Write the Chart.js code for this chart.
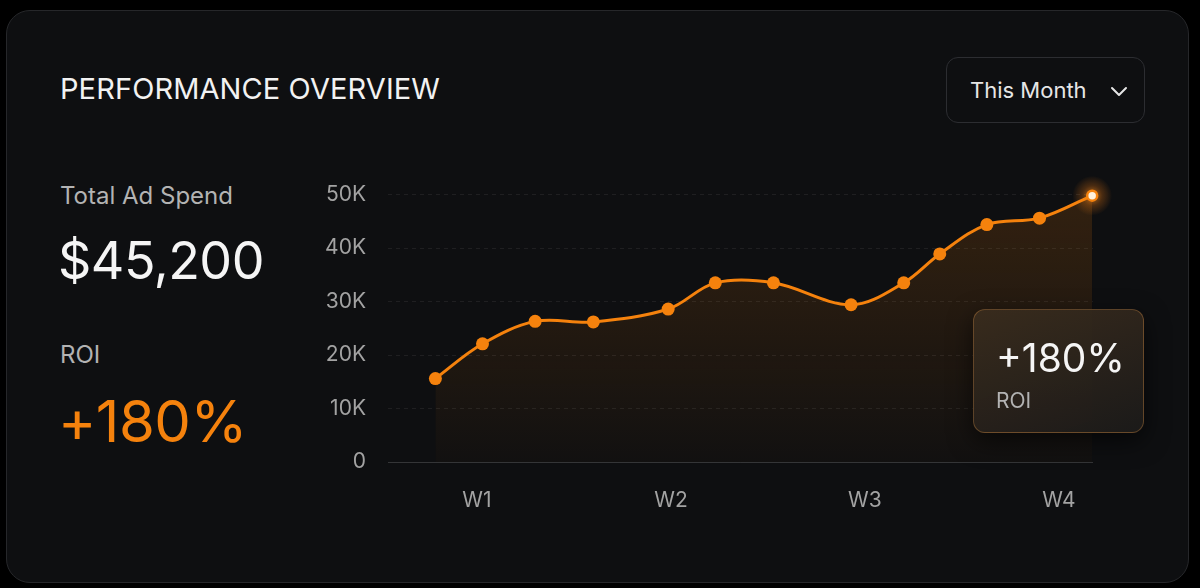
<!DOCTYPE html>
<html>
<head>
<meta charset="utf-8">
<script src="https://cdn.jsdelivr.net/npm/chart.js@4.4.1/dist/chart.umd.min.js"></script>
<style>
  html, body { margin: 0; padding: 0; background: #000; }
  body { width: 1200px; height: 588px; position: relative; overflow: hidden; font-family: Inter, "Noto Sans", sans-serif; }
  .card {
    position: absolute; left: 6px; top: 10px; width: 1181px; height: 571px;
    background: #0e0f11; border: 1px solid #26272a; border-radius: 24px;
  }
  .title { position: absolute; left: 60px; top: 71px; font-size: 29px; color: #f2f2f2; letter-spacing: 0.1px; }
  .dropdown {
    position: absolute; left: 946px; top: 57px; width: 199px; height: 66px;
    border: 1px solid #2c2d31; border-radius: 12px; box-sizing: border-box;
  }
  .dropdown span { position: absolute; left: 23px; top: 19px; font-size: 22px; color: #e6e6e6; }
  .dropdown svg { position: absolute; left: 163px; top: 28px; }
  .label { position: absolute; left: 60px; color: #b3b3b3; font-size: 24px; }
  .big { position: absolute; left: 58px; font-size: 52px; color: #f5f5f5; letter-spacing: -0.5px; }
  .roi { color: #f5820d; font-size: 58px; }
  .chartbox { position: absolute; left: 300px; top: 160px; width: 830px; height: 350px; }
  .tip {
    position: absolute; left: 973px; top: 309px; width: 171px; height: 124px; box-sizing: border-box;
    border-radius: 12px; border: 1px solid rgba(255, 170, 80, 0.28);
    background: linear-gradient(160deg, rgba(58, 44, 30, 0.95), rgba(28, 27, 26, 0.96));
    box-shadow: 0 8px 24px rgba(0, 0, 0, 0.6);
  }
  .tip .v { position: absolute; left: 22px; top: 24px; font-size: 39px; color: #f5f5f5; }
  .tip .l { position: absolute; left: 22px; top: 78px; font-size: 21px; color: #b3b3b3; }
</style>
</head>
<body>
<div class="card"></div>
<div class="title">PERFORMANCE OVERVIEW</div>
<div class="dropdown"><span>This Month</span>
  <svg width="18" height="12" viewBox="0 0 18 12"><path d="M2 2 L9 9 L16 2" fill="none" stroke="#e6e6e6" stroke-width="2" stroke-linecap="round" stroke-linejoin="round"/></svg>
</div>
<div class="label" style="top:181px">Total Ad Spend</div>
<div class="big" style="top:229px">$45,200</div>
<div class="label" style="top:340px">ROI</div>
<div class="big roi" style="top:386px">+180%</div>
<div class="chartbox"><canvas id="chart"></canvas></div>
<div class="tip"><div class="v">+180%</div><div class="l">ROI</div></div>

<script>
// day of month for each sample, spend in dollars
const days = [5.5, 7.2, 9.1, 11.2, 13.9, 15.6, 17.7, 20.5, 22.4, 23.7, 25.4, 27.3, 29.2];
const spend = [15600, 22100, 26300, 26200, 28600, 33500, 33500, 29400, 33500, 38900, 44400, 45600, 49800];
const weekTicks = [7, 14, 21, 28];
const weekLabels = ['W1', 'W2', 'W3', 'W4'];
const yTicks = [0, 10000, 20000, 30000, 40000, 50000];
const yTickLabels = ['0', '10K', '20K', '30K', '40K', '50K'];

const orange = '#f5820d';
const tickColor = '#a3a3a3';
const lastIdx = spend.length - 1;

const glow = {
  id: 'glow',
  beforeDatasetsDraw(chart) {
    const pt = chart.getDatasetMeta(0).data[lastIdx];
    if (!pt) return;
    const ctx = chart.ctx;
    const g = ctx.createRadialGradient(pt.x, pt.y, 0, pt.x, pt.y, 20);
    g.addColorStop(0, 'rgba(255, 150, 40, 0.7)');
    g.addColorStop(0.5, 'rgba(255, 130, 20, 0.25)');
    g.addColorStop(1, 'rgba(255, 130, 20, 0)');
    ctx.save();
    ctx.fillStyle = g;
    ctx.beginPath();
    ctx.arc(pt.x, pt.y, 20, 0, Math.PI * 2);
    ctx.fill();
    ctx.restore();
  }
};

new Chart(document.getElementById('chart'), {
  type: 'line',
  data: {
    datasets: [{
      data: days.map((d, i) => ({ x: d, y: spend[i] })),
      borderColor: orange,
      borderWidth: 3,
      tension: 0.35,
      fill: 'origin',
      clip: false,
      backgroundColor: (c) => {
        const area = c.chart.chartArea;
        if (!area) return 'rgba(245,130,13,0.08)';
        const g = c.chart.ctx.createLinearGradient(0, area.top, 0, area.bottom);
        g.addColorStop(0, 'rgba(245, 130, 13, 0.16)');
        g.addColorStop(1, 'rgba(245, 130, 13, 0.02)');
        return g;
      },
      pointRadius: spend.map((_, i) => i === lastIdx ? 5 : 6.5),
      pointBackgroundColor: spend.map((_, i) => i === lastIdx ? '#fff1dc' : orange),
      pointBorderColor: orange,
      pointBorderWidth: spend.map((_, i) => i === lastIdx ? 2.5 : 0),
    }]
  },
  options: {
    responsive: true,
    maintainAspectRatio: false,
    animation: false,
    layout: { padding: { top: 13, right: 37, left: 0, bottom: 0 } },
    plugins: { legend: { display: false }, tooltip: { enabled: false } },
    scales: {
      x: {
        type: 'linear',
        min: 3.79,
        max: 29.23,
        afterBuildTicks: (s) => { s.ticks = weekTicks.map(v => ({ value: v })); },
        afterFit: (s) => { s.height = 48; },
        ticks: {
          color: tickColor,
          font: { family: 'Inter', size: 21 },
          padding: 18,
          callback: (v) => weekLabels[weekTicks.indexOf(v)],
        },
        grid: { display: false },
        border: { display: false },
      },
      y: {
        min: 0,
        max: 50000,
        afterBuildTicks: (s) => { s.ticks = yTicks.map(v => ({ value: v })); },
        afterFit: (s) => { s.width = 88; },
        ticks: {
          color: tickColor,
          font: { family: 'Inter', size: 21 },
          padding: 22,
          callback: (v) => yTickLabels[yTicks.indexOf(v)],
        },
        grid: {
          drawTicks: false,
          color: (c) => c.tick && c.tick.value === 0 ? 'rgba(255,255,255,0.16)' : 'rgba(255,255,255,0.07)',
          lineWidth: 1,
        },
        border: {
          display: false,
          dash: (c) => c.tick && c.tick.value === 0 ? [] : [4, 4],
        },
      }
    }
  },
  plugins: [glow]
});
</script>
</body>
</html>
